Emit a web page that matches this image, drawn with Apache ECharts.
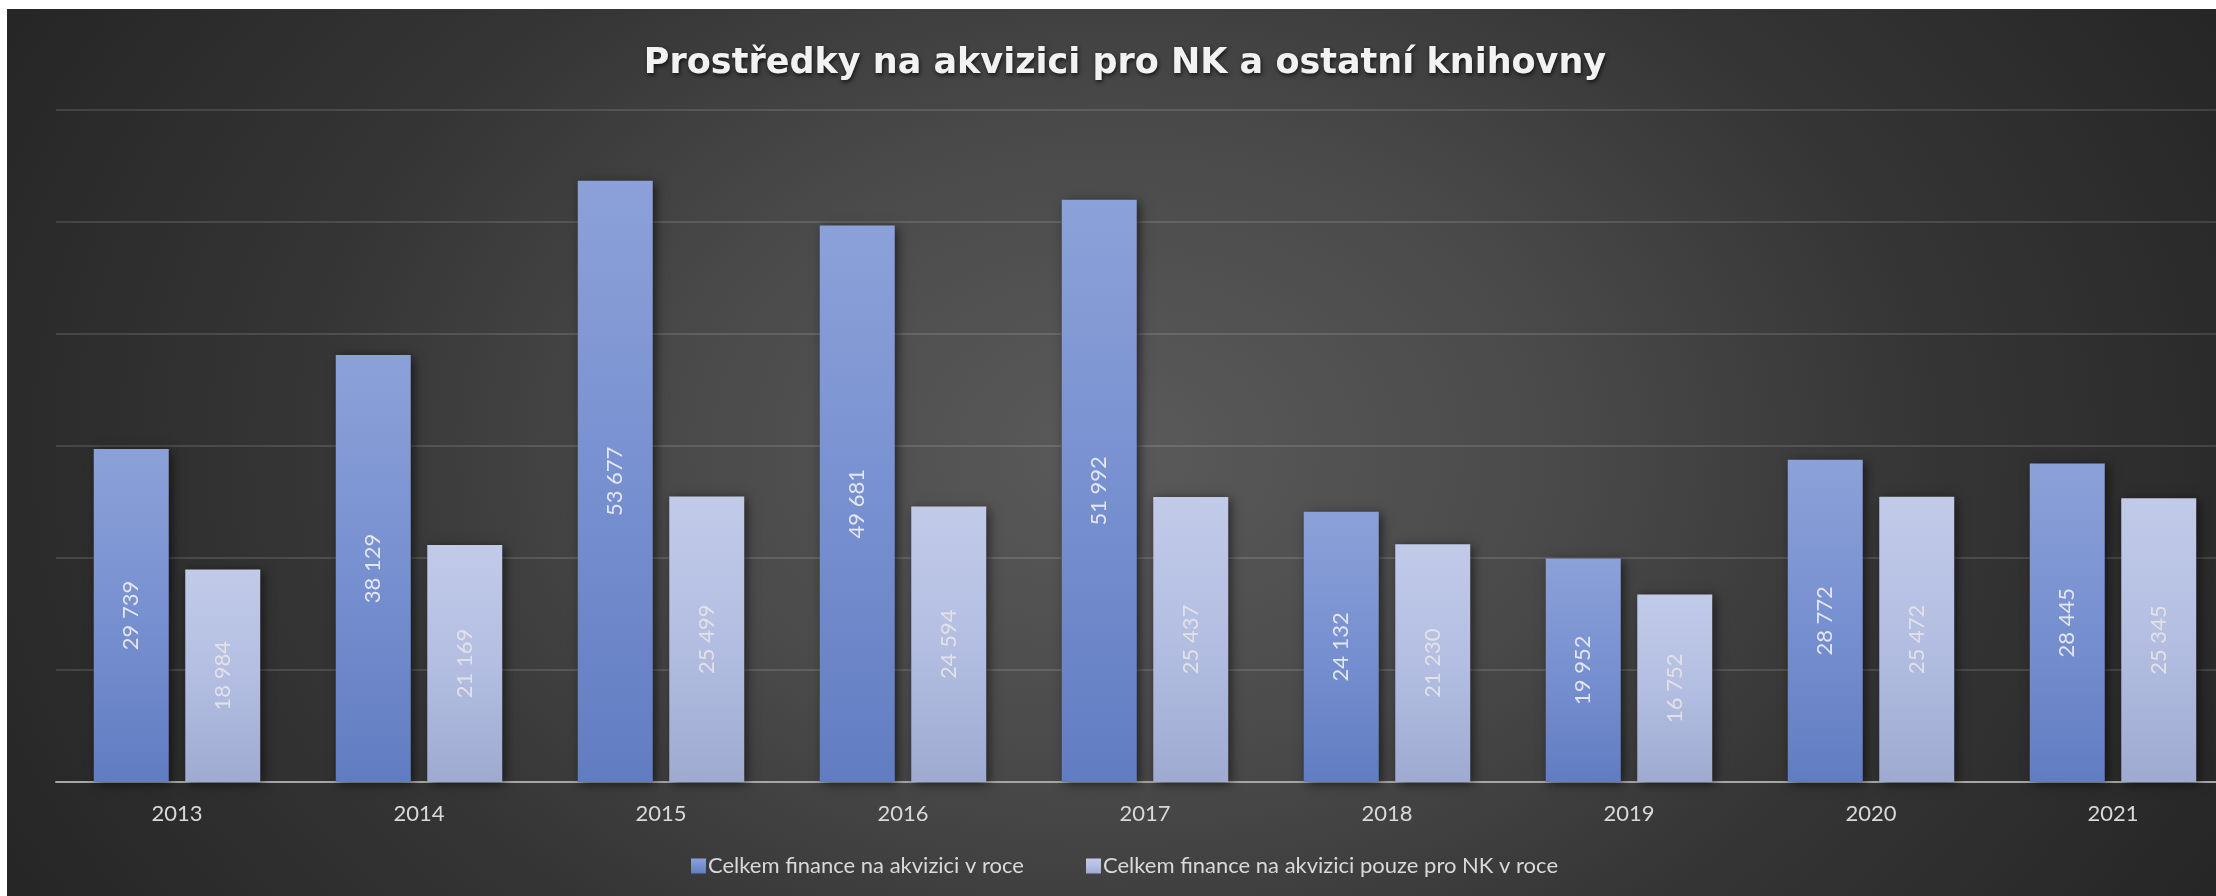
<!DOCTYPE html>
<html><head><meta charset="utf-8">
<script src="https://cdn.jsdelivr.net/npm/echarts@6/dist/echarts.min.js"></script>
<style>
html,body{margin:0;padding:0;background:#ffffff;width:2216px;height:896px;overflow:hidden;position:relative;}
#bg{position:absolute;left:7px;top:9px;width:2209px;height:887px;
background:radial-gradient(ellipse 1250px 900px at 1110px 440px,#5a5a5a 0%,#4a4a4a 35%,#353535 65%,#262626 100%);}
#chart{position:absolute;left:0;top:0;width:2240px;height:896px;}
</style></head>
<body><div id="bg"></div><div id="chart"></div>
<script>
const titleText = 'Prostředky na akvizici pro NK a ostatní knihovny';
const categories = ['2013','2014','2015','2016','2017','2018','2019','2020','2021'];
const seriesNames = ['Celkem finance na akvizici v roce','Celkem finance na akvizici pouze pro NK v roce'];
const totalValues = [29739, 38129, 53677, 49681, 51992, 24132, 19952, 28772, 28445];
const nkValues = [18984, 21169, 25499, 24594, 25437, 21230, 16752, 25472, 25345];

const fmt = v => String(v).replace(/\B(?=(\d{3})+(?!\d))/g, ' ');
const FONT = 'Lato';

const chart = echarts.init(document.getElementById('chart'), null, {renderer:'canvas'});
chart.setOption({
  backgroundColor: 'transparent',
  animation: false,
  title: {
    text: titleText, left: 1120, top: 41, textAlign: 'center',
    textStyle: {color:'#f2f2f2', fontFamily: 'DejaVu Sans', fontWeight:'bold', fontSize: 35,
      textShadowColor:'rgba(0,0,0,0.7)', textShadowBlur:4, textShadowOffsetX:1, textShadowOffsetY:2}
  },
  legend: {
    data: seriesNames, left: 686, top: 850, itemWidth: 15, itemHeight: 15, itemGap: 62,
    icon: 'rect',
    textStyle: {color:'#d9d9d9', fontFamily: FONT, fontSize: 22, padding:[0,0,0,-3]}
  },
  grid: {left: 56, right: 6, top: 110, bottom: 114},
  xAxis: {
    type: 'category', data: categories,
    axisLine: {lineStyle:{color:'#a6a6a6', width:2}},
    axisTick: {show:false},
    axisLabel: {color:'#d9d9d9', fontFamily: FONT, fontSize: 22, margin: 21}
  },
  yAxis: {
    type: 'value', min: 0, max: 60000, interval: 10000,
    axisLabel: {show:false}, axisLine:{show:false}, axisTick:{show:false},
    splitLine: {lineStyle:{color:'rgba(255,255,255,0.12)', width:2}}
  },
  series: [
    {
      name: seriesNames[0], type: 'bar', data: totalValues, barWidth: 75, barGap: '22%',
      itemStyle: {
        color: new echarts.graphic.LinearGradient(0,0,0,1,[{offset:0,color:'#8ca1d9'},{offset:0.5,color:'#7790d0'},{offset:1,color:'#617dc1'}]),
        shadowColor:'rgba(0,0,0,0.55)', shadowBlur:10, shadowOffsetX:3, shadowOffsetY:2
      },
      label: {show:true, position:'inside', rotate:90, color:'#e4e7f0', fontFamily: FONT, fontSize: 22,
        formatter: p => fmt(p.value)}
    },
    {
      name: seriesNames[1], type: 'bar', data: nkValues, barWidth: 75,
      itemStyle: {
        color: new echarts.graphic.LinearGradient(0,0,0,1,[{offset:0,color:'#c2cae8'},{offset:0.5,color:'#b3bee2'},{offset:1,color:'#9eaad0'}]),
        shadowColor:'rgba(0,0,0,0.55)', shadowBlur:10, shadowOffsetX:3, shadowOffsetY:2
      },
      label: {show:true, position:'inside', rotate:90, color:'#e2e2e6', fontFamily: FONT, fontSize: 22,
        formatter: p => fmt(p.value)}
    }
  ]
});
</script></body></html>
